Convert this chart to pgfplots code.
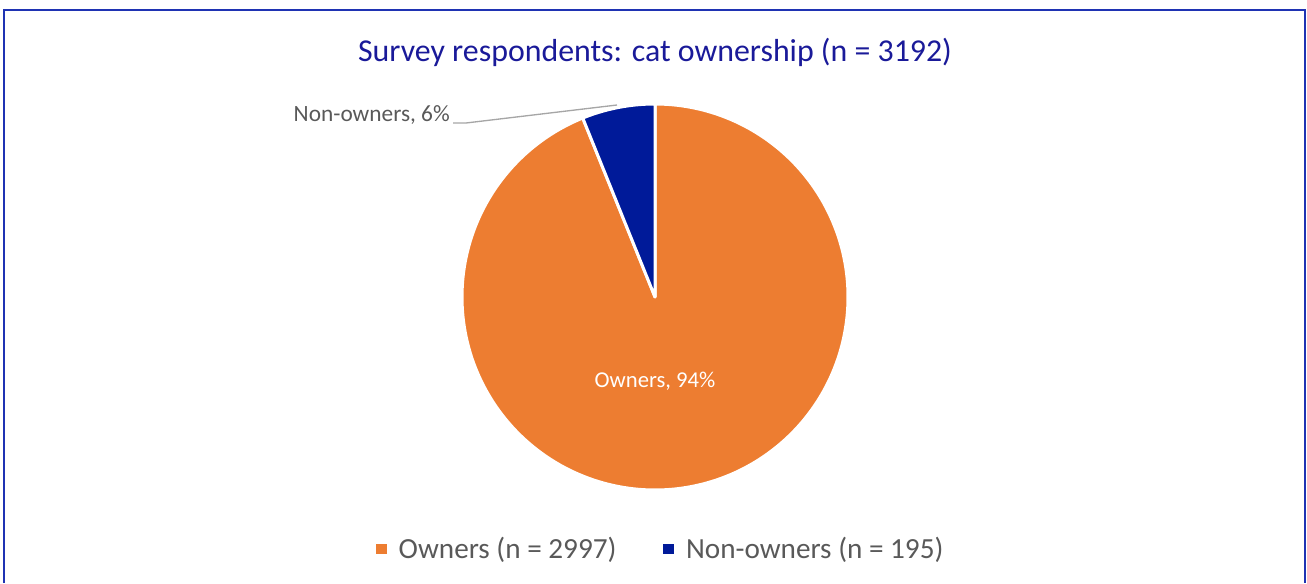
\documentclass[border=0pt]{standalone}
\usepackage{pgfplots}
\pgfplotsset{compat=1.18}
\usepackage{fontspec}
\setmainfont{Carlito}
\definecolor{own}{HTML}{ED7D31}
\definecolor{non}{HTML}{001A99}
\definecolor{ttl}{HTML}{1A1A99}
\definecolor{frm}{HTML}{1F33B3}
\definecolor{txt}{HTML}{595959}
\definecolor{lead}{HTML}{A6A6A6}
\begin{document}
\begin{tikzpicture}
\def\nOwn{2997}\def\nNon{195}
\pgfmathsetmacro{\endOwn}{90-360*(\nOwn/(\nOwn+\nNon))}
\pgfmathsetmacro{\endNon}{90+360*(\nNon/(\nOwn+\nNon))}
\begin{axis}[width=980.25pt,height=437.25pt,scale only axis,hide axis,
  xmin=0,xmax=1307,ymin=0,ymax=583,y dir=reverse,clip=false,
  legend style={at={(axis cs:661,549)},anchor=center,draw=none,fill=none,
    font=\fontsize{21.9}{24}\selectfont\color{txt},legend columns=2,
    /tikz/every even column/.append style={column sep=33pt}},
  legend cell align=left,
  legend image code/.code={\fill[#1,draw=none] (0pt,-4.1pt) rectangle (8.2pt,4.1pt); \path (14pt,0pt);}]
\path (axis cs:0,0) (axis cs:1307,583);
\addplot[fill=own, draw=white, line width=2.25pt, line join=round, domain=\endOwn:90, samples=300]
  ({655+193*cos(x)},{297-193*sin(x)}) -- (axis cs:655,297) -- cycle;
\addlegendentry{Owners (n = 2997)}
\addplot[fill=non, draw=white, line width=2.25pt, line join=round, domain=90:\endNon, samples=60]
  ({655+193*cos(x)},{297-193*sin(x)}) -- (axis cs:655,297) -- cycle;
\addlegendentry{Non-owners (n = 195)}
\addplot[lead, line width=1pt, forget plot] coordinates {(453,123) (466,123) (617,105)};
\node[anchor=east, text=txt, font=\fontsize{17.5}{20}\selectfont, inner sep=0pt] at (axis cs:450,115) {Non-owners, 6\%};
\node[text=white, font=\fontsize{17}{20}\selectfont] at (axis cs:655,381) {Owners, 94\%};
\node[text=ttl, font=\fontsize{23.9}{28}\selectfont] at (axis cs:655,52) {Survey respondents: cat ownership (n = 3192)};
\draw[frm, line width=1.5pt] (axis cs:4,583) -- (axis cs:4,10) -- (axis cs:1305,10) -- (axis cs:1305,583);
\end{axis}
\end{tikzpicture}
\end{document}
